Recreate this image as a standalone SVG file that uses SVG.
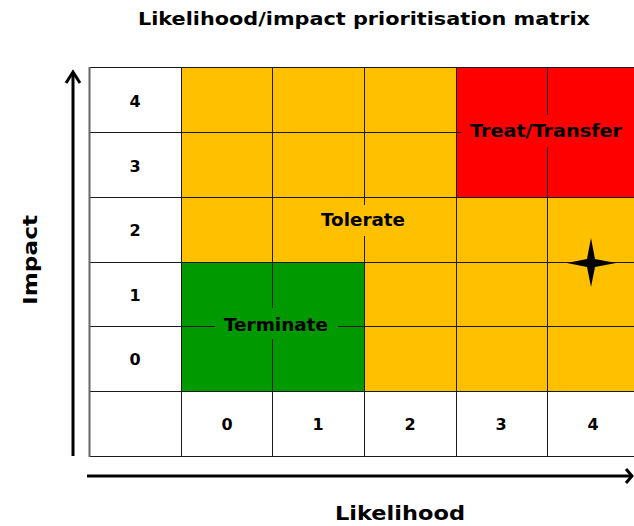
<svg xmlns="http://www.w3.org/2000/svg" width="634" height="526" viewBox="0 0 634 526">
<defs>
<style>
text{font-family:"DejaVu Sans",Verdana,sans-serif;font-weight:bold;fill:#000;text-anchor:middle}
.num{font-size:16px}
.zone{font-size:17px}
.axis{font-size:19px}
.title{font-size:18px}
.grid line{stroke:#1a1a1a;stroke-width:1}
.arrow{stroke:#000;stroke-width:3;fill:none}
</style>
</defs>
<rect width="634" height="526" fill="#fff"/>
<text class="title" x="364" y="25" textLength="452" lengthAdjust="spacingAndGlyphs">Likelihood/impact prioritisation matrix</text>
<g id="cells">
<rect x="89" y="67" width="92" height="389" fill="#fff"/>
<rect x="181" y="67" width="453" height="324" fill="#FFC000"/>
<rect x="456" y="67" width="178" height="130" fill="#FF0000"/>
<rect x="181" y="262" width="183" height="129" fill="#009900"/>
<rect x="181" y="391" width="453" height="65" fill="#fff"/>
</g>
<g class="grid" id="grid">
<line x1="89" y1="67.5" x2="634" y2="67.5"/>
<line x1="89" y1="132.5" x2="634" y2="132.5"/>
<line x1="89" y1="197.5" x2="634" y2="197.5"/>
<line x1="89" y1="262.5" x2="634" y2="262.5"/>
<line x1="89" y1="326.5" x2="634" y2="326.5"/>
<line x1="89" y1="391.5" x2="634" y2="391.5"/>
<line x1="89" y1="456.5" x2="634" y2="456.5"/>
<line x1="89.5" y1="67" x2="89.5" y2="457" style="stroke:#666;stroke-width:2"/>
<line x1="181.5" y1="67" x2="181.5" y2="456"/>
<line x1="272.5" y1="67" x2="272.5" y2="456"/>
<line x1="364.5" y1="67" x2="364.5" y2="456"/>
<line x1="456.5" y1="67" x2="456.5" y2="456"/>
<line x1="547.5" y1="67" x2="547.5" y2="456"/>
</g>
<g id="row-labels">
<text class="num" x="135" y="107">4</text>
<text class="num" x="135" y="172">3</text>
<text class="num" x="135" y="236">2</text>
<text class="num" x="135" y="301">1</text>
<text class="num" x="135" y="365">0</text>
</g>
<g id="col-labels">
<text class="num" x="227" y="430">0</text>
<text class="num" x="318" y="430">1</text>
<text class="num" x="410" y="430">2</text>
<text class="num" x="501" y="430">3</text>
<text class="num" x="593" y="430">4</text>
</g>
<g id="tolerate">
<rect x="313" y="205" width="100" height="31" fill="#FFC000"/>
<text class="zone" x="363" y="226" textLength="84" lengthAdjust="spacingAndGlyphs">Tolerate</text>
</g>
<g id="terminate">
<rect x="215" y="308" width="123" height="31" fill="#009900"/>
<text class="zone" x="276" y="331" textLength="104" lengthAdjust="spacingAndGlyphs">Terminate</text>
</g>
<g id="treat">
<rect x="461" y="115" width="173" height="32" fill="#FF0000"/>
<text class="zone" x="546" y="137" textLength="152" lengthAdjust="spacingAndGlyphs">Treat/Transfer</text>
</g>
<g id="star">
<path d="M591,238 L595,259 L616,263 L595,267 L591,287 L587,267 L567,263 L587,259 Z" fill="#000"/>
</g>
<g id="axes">
<line class="arrow" x1="73" y1="456" x2="73" y2="72"/>
<polyline class="arrow" points="66,83 73,72 80,83"/>
<line class="arrow" x1="87" y1="476" x2="631" y2="476"/>
<polyline class="arrow" points="626,469 632,476 626,483"/>
</g>
<text class="axis" x="400" y="520" textLength="130" lengthAdjust="spacingAndGlyphs">Likelihood</text>
<text class="axis" transform="translate(37,260) rotate(-90)" textLength="90" lengthAdjust="spacingAndGlyphs">Impact</text>
</svg>
